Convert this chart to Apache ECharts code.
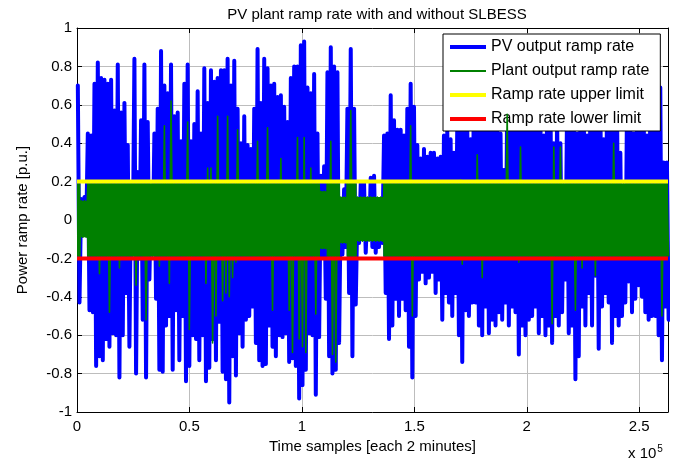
<!DOCTYPE html>
<html>
<head>
<meta charset="utf-8">
<script src="https://cdn.jsdelivr.net/npm/echarts@6/dist/echarts.min.js"></script>
<style>html,body{margin:0;padding:0;background:#fff;}#c{width:686px;height:464px;}</style>
</head>
<body>
<div id="c"></div>
<script>
// ---- data ----
const xMax = 262800;          // last time sample
const binSize = 1480;         // samples per reading step
const xTickStep = 50000;
const yTicks = [-1, -0.8, -0.6, -0.4, -0.2, 0, 0.2, 0.4, 0.6, 0.8, 1];

// PV output ramp rate: per step, peak (up) and trough (down)
const pvUp = [
0.70,0.11,0.12,0.45,0.44,0.71,0.82,0.74,0.73,0.71,
0.73,0.57,0.81,0.56,0.61,0.39,0.19,0.84,0.25,0.52,
0.81,0.51,0.14,0.45,0.58,0.88,0.70,0.66,0.81,0.54,
0.56,0.41,0.71,0.81,0.41,0.50,0.67,0.45,0.79,0.61,
0.78,0.72,0.74,0.78,0.78,0.84,0.70,0.83,0.58,0.40,
0.54,0.39,0.37,0.58,0.89,0.61,0.84,0.79,0.70,0.71,
0.64,0.65,0.59,0.51,0.74,0.80,0.80,0.91,0.93,0.69,
0.66,0.76,0.45,0.23,0.28,0.77,0.90,0.80,0.77,0.11,
0.16,0.58,0.89,0.58,0.06,0.19,0.19,0.07,0.22,0.23,
0.09,0.10,0.44,0.45,0.65,0.52,0.47,0.47,0.44,0.58,
0.71,0.59,0.39,0.32,0.37,0.33,0.35,0.35,0.32,0.33,
0.44,0.47,0.42,0.35,0.49,0.49,0.52,0.50,0.42,0.70,
0.60,0.55,0.70,0.60,0.55,0.65,0.55,0.45,0.26,0.60,
0.70,0.65,0.60,0.55,0.50,0.65,0.60,0.70,0.55,0.50,
0.44,0.60,0.65,0.40,0.55,0.40,0.18,0.60,0.55,0.60,
0.45,0.60,0.60,0.44,0.60,0.65,0.60,0.60,0.42,0.60,
0.65,0.60,0.60,0.35,0.10,0.60,0.55,0.45,0.60,0.55,
0.60,0.44,0.60,0.65,0.60,0.69,0.30,0.30
];
const pvDown = [
-0.43,-0.08,-0.07,-0.47,-0.48,-0.76,-0.71,-0.73,-0.62,-0.66,
-0.59,-0.60,-0.82,-0.60,-0.38,-0.66,-0.17,-0.80,-0.20,-0.52,
-0.82,-0.31,-0.17,-0.41,-0.78,-0.79,-0.55,-0.50,-0.78,-0.47,
-0.73,-0.50,-0.84,-0.76,-0.60,-0.62,-0.73,-0.60,-0.84,-0.77,
-0.62,-0.73,-0.53,-0.79,-0.83,-0.95,-0.71,-0.81,-0.59,-0.66,
-0.52,-0.50,-0.45,-0.64,-0.73,-0.76,-0.75,-0.55,-0.66,-0.71,
-0.60,-0.61,-0.59,-0.74,-0.72,-0.76,-0.93,-0.86,-0.78,-0.59,
-0.60,-0.91,-0.61,-0.19,-0.41,-0.71,-0.80,-0.78,-0.64,-0.18,
-0.14,-0.38,-0.71,-0.44,-0.12,-0.10,-0.17,-0.10,-0.14,-0.17,
-0.14,-0.12,-0.38,-0.62,-0.55,-0.41,-0.50,-0.41,-0.47,-0.66,
-0.82,-0.50,-0.31,-0.27,-0.33,-0.30,-0.27,-0.38,-0.31,-0.52,
-0.38,-0.43,-0.50,-0.38,-0.60,-0.74,-0.47,-0.50,-0.43,-0.43,
-0.55,-0.60,-0.45,-0.59,-0.52,-0.55,-0.48,-0.52,-0.43,-0.55,
-0.45,-0.48,-0.70,-0.55,-0.60,-0.52,-0.50,-0.45,-0.59,-0.50,
-0.60,-0.55,-0.64,-0.50,-0.55,-0.48,-0.31,-0.59,-0.55,-0.83,
-0.71,-0.45,-0.55,-0.38,-0.55,-0.29,-0.67,-0.45,-0.38,-0.43,
-0.64,-0.50,-0.55,-0.50,-0.43,-0.32,-0.48,-0.41,-0.34,-0.40,
-0.48,-0.52,-0.50,-0.50,-0.60,-0.73,-0.45,-0.52
];

// Plant output ramp rate: per step, peak (up) and trough (down)
const plantUp = [
0.19,0.10,0.10,0.19,0.19,0.19,0.19,0.19,0.19,0.19,
0.19,0.19,0.19,0.19,0.19,0.19,0.19,0.19,0.19,0.19,
0.19,0.19,0.19,0.19,0.19,0.19,0.49,0.19,0.62,0.19,
0.19,0.19,0.19,0.51,0.19,0.19,0.19,0.19,0.19,0.27,
0.27,0.19,0.54,0.19,0.19,0.54,0.19,0.19,0.47,0.19,
0.19,0.19,0.19,0.19,0.41,0.19,0.19,0.48,0.19,0.19,
0.19,0.32,0.19,0.19,0.19,0.19,0.43,0.19,0.43,0.19,
0.27,0.19,0.19,0.15,0.15,0.19,0.41,0.19,0.19,0.12,
0.12,0.19,0.57,0.19,0.12,0.12,0.12,0.12,0.12,0.12,
0.12,0.12,0.19,0.19,0.19,0.19,0.19,0.19,0.19,0.19,
0.49,0.19,0.19,0.19,0.19,0.19,0.19,0.19,0.19,0.19,
0.19,0.19,0.19,0.19,0.19,0.21,0.19,0.19,0.19,0.19,
0.34,0.19,0.19,0.19,0.19,0.19,0.19,0.19,0.19,0.55,
0.19,0.19,0.19,0.38,0.19,0.19,0.19,0.19,0.19,0.19,
0.19,0.19,0.19,0.38,0.19,0.38,0.19,0.19,0.19,0.19,
0.19,0.19,0.19,0.19,0.19,0.19,0.19,0.19,0.19,0.19,
0.19,0.40,0.19,0.19,0.19,0.19,0.19,0.19,0.19,0.19,
0.19,0.19,0.19,0.19,0.19,0.20,0.19,0.19
];
const plantDown = [
-0.19,-0.09,-0.09,-0.19,-0.19,-0.19,-0.28,-0.19,-0.19,-0.48,
-0.19,-0.19,-0.25,-0.19,-0.19,-0.19,-0.19,-0.34,-0.19,-0.19,
-0.52,-0.19,-0.19,-0.19,-0.24,-0.19,-0.19,-0.33,-0.19,-0.19,
-0.19,-0.19,-0.19,-0.57,-0.19,-0.19,-0.19,-0.19,-0.33,-0.19,
-0.64,-0.50,-0.19,-0.42,-0.38,-0.40,-0.30,-0.22,-0.19,-0.19,
-0.19,-0.19,-0.19,-0.19,-0.19,-0.19,-0.19,-0.19,-0.47,-0.19,
-0.19,-0.19,-0.19,-0.47,-0.69,-0.19,-0.62,-0.66,-0.69,-0.19,
-0.19,-0.49,-0.19,-0.15,-0.15,-0.19,-0.70,-0.74,-0.19,-0.12,
-0.12,-0.19,-0.19,-0.19,-0.11,-0.11,-0.11,-0.11,-0.11,-0.11,
-0.11,-0.11,-0.19,-0.19,-0.19,-0.19,-0.19,-0.19,-0.19,-0.19,
-0.50,-0.19,-0.19,-0.19,-0.19,-0.19,-0.19,-0.19,-0.19,-0.19,
-0.19,-0.19,-0.19,-0.19,-0.19,-0.23,-0.19,-0.19,-0.19,-0.19,
-0.19,-0.30,-0.19,-0.19,-0.19,-0.19,-0.19,-0.19,-0.19,-0.19,
-0.19,-0.19,-0.22,-0.19,-0.19,-0.19,-0.19,-0.19,-0.19,-0.19,
-0.19,-0.19,-0.54,-0.19,-0.19,-0.19,-0.19,-0.19,-0.19,-0.47,
-0.19,-0.25,-0.19,-0.19,-0.19,-0.29,-0.19,-0.19,-0.19,-0.19,
-0.19,-0.19,-0.19,-0.19,-0.19,-0.19,-0.19,-0.19,-0.19,-0.19,
-0.19,-0.19,-0.19,-0.19,-0.19,-0.50,-0.19,-0.19
];

// densely oscillating core of the plant output (envelope of the solid green band)
const plantCoreT  = [0, 1480, 1480, 4440, 4440, 108040, 108040, 111000, 111000, 116920, 116920, 119880, 119880, 124320, 124320, 136160, 136160, 262800];
const plantCoreHi = [0.19,0.19,0.10,0.10,0.19,0.19,0.15,0.15,0.19,0.19,0.12,0.12,0.19,0.19,0.12,0.12,0.19,0.19];
const plantCoreLo = [-0.19,-0.19,-0.09,-0.09,-0.19,-0.19,-0.15,-0.15,-0.19,-0.19,-0.12,-0.12,-0.19,-0.19,-0.11,-0.11,-0.19,-0.19];

const upperLimit = 0.2;
const lowerLimit = -0.2;

const names = ['PV output ramp rate', 'Plant output ramp rate', 'Ramp rate upper limit', 'Ramp rate lower limit'];
const colors = ['#0000ff', '#008000', '#ffff00', '#ff0000'];
const legendThickness = [4, 2, 4, 4];

// ---- build series data ----
function zigzag(up, down) {
  const d = [];
  for (let i = 0; i < up.length; i++) {
    d.push([i * binSize + binSize * 0.25, up[i]]);
    d.push([i * binSize + binSize * 0.75, down[i]]);
  }
  return d;
}
const pvData = zigzag(pvUp, pvDown);
const plantData = zigzag(plantUp, plantDown);
const coreData = plantCoreT.map((t, i) => [t, plantCoreHi[i], plantCoreLo[i]]);

const FONT = 'Liberation Sans';
const chart = echarts.init(document.getElementById('c'), null, {renderer: 'canvas'});

const commonX = {
  type: 'value', min: 0, max: xMax, interval: xTickStep,
  axisLine: {show: true, onZero: false, lineStyle: {color: '#000', width: 1}},
  axisTick: {show: true, inside: true, length: 5, lineStyle: {color: '#000'}},
  splitLine: {show: false}
};
const commonY = {
  type: 'value', min: -1, max: 1, interval: 0.2,
  axisLine: {show: true, onZero: false, lineStyle: {color: '#000', width: 1}},
  axisTick: {show: true, inside: true, length: 5, lineStyle: {color: '#000'}},
  splitLine: {show: false}
};

chart.setOption({
  animation: false,
  backgroundColor: '#fff',
  title: {
    text: 'PV plant ramp rate with and without SLBESS',
    left: 372, top: 2, textAlign: 'center',
    textStyle: {fontFamily: FONT, fontSize: 15, fontWeight: 'normal', color: '#000'}
  },
  grid: {left: 77, right: 18, top: 28, bottom: 52, containLabel: false},
  legend: {
    data: names.map((n, i) => ({
      name: n,
      icon: 'path://M0,0H36V' + legendThickness[i] + 'H0Z'
    })),
    symbolKeepAspect: true,
    orient: 'vertical',
    left: 443, top: 34,
    padding: [5, 11, 4, 7],
    itemGap: 8,
    itemWidth: 36, itemHeight: 15,
    backgroundColor: '#fff',
    borderColor: '#000', borderWidth: 1, borderRadius: 0,
    textStyle: {fontFamily: FONT, fontSize: 16, color: '#000'},
    selectedMode: false
  },
  xAxis: [
    Object.assign({}, commonX, {
      position: 'bottom',
      axisLabel: {
        show: true, margin: 7, color: '#000', fontFamily: FONT, fontSize: 15,
        formatter: v => (v % xTickStep === 0 ? String(v / 1e5) : '')
      },
      splitLine: {show: true, lineStyle: {color: '#bdbdbd', width: 1}},
      name: 'Time samples [each 2 minutes]',
      nameLocation: 'middle', nameGap: 20,
      nameTextStyle: {fontFamily: FONT, fontSize: 15, color: '#000'}
    }),
    Object.assign({}, commonX, {position: 'top', axisLabel: {show: false}})
  ],
  yAxis: [
    Object.assign({}, commonY, {
      position: 'left',
      axisLabel: {
        show: true, margin: 5, color: '#000', fontFamily: FONT, fontSize: 15,
        formatter: v => String(parseFloat(v.toFixed(1)))
      },
      splitLine: {show: true, lineStyle: {color: '#bdbdbd', width: 1}},
      name: 'Power ramp rate [p.u.]',
      nameLocation: 'middle', nameGap: 47,
      nameTextStyle: {fontFamily: FONT, fontSize: 15, color: '#000'}
    }),
    Object.assign({}, commonY, {position: 'right', axisLabel: {show: false}})
  ],
  graphic: [{
    type: 'text', left: 628, top: 444,
    style: {
      text: '{a|x 10}{b|5}',
      rich: {
        a: {fontFamily: FONT, fontSize: 15, fill: '#000', verticalAlign: 'bottom', lineHeight: 17},
        b: {fontFamily: FONT, fontSize: 10, fill: '#000', verticalAlign: 'top', padding: [0, 0, 8, 1], lineHeight: 17}
      }
    }
  }],
  series: [
    {
      name: names[0], type: 'line', data: pvData, symbol: 'none',
      lineStyle: {color: colors[0], width: 4, join: 'round', cap: 'round'},
      itemStyle: {color: colors[0]}, z: 2
    },
    {
      name: 'core', type: 'custom', data: coreData, z: 3, clip: true,
      renderItem: function (params, api) {
        if (params.dataIndex !== 0) return null;
        const pts = [];
        for (let i = 0; i < plantCoreT.length; i++) pts.push(api.coord([plantCoreT[i], plantCoreHi[i]]));
        for (let i = plantCoreT.length - 1; i >= 0; i--) pts.push(api.coord([plantCoreT[i], plantCoreLo[i]]));
        return {type: 'polygon', shape: {points: pts}, style: {fill: colors[1]}};
      },
      encode: {x: 0, y: [1, 2]}
    },
    {
      name: names[1], type: 'line', data: plantData, symbol: 'none',
      lineStyle: {color: colors[1], width: 1.6, join: 'round'},
      itemStyle: {color: colors[1]}, z: 4
    },
    {
      name: names[2], type: 'line', data: [[0, upperLimit], [xMax, upperLimit]], symbol: 'none',
      lineStyle: {color: colors[2], width: 4}, itemStyle: {color: colors[2]}, z: 5
    },
    {
      name: names[3], type: 'line', data: [[0, lowerLimit], [xMax, lowerLimit]], symbol: 'none',
      lineStyle: {color: colors[3], width: 4}, itemStyle: {color: colors[3]}, z: 5
    }
  ]
});
</script>
</body>
</html>
